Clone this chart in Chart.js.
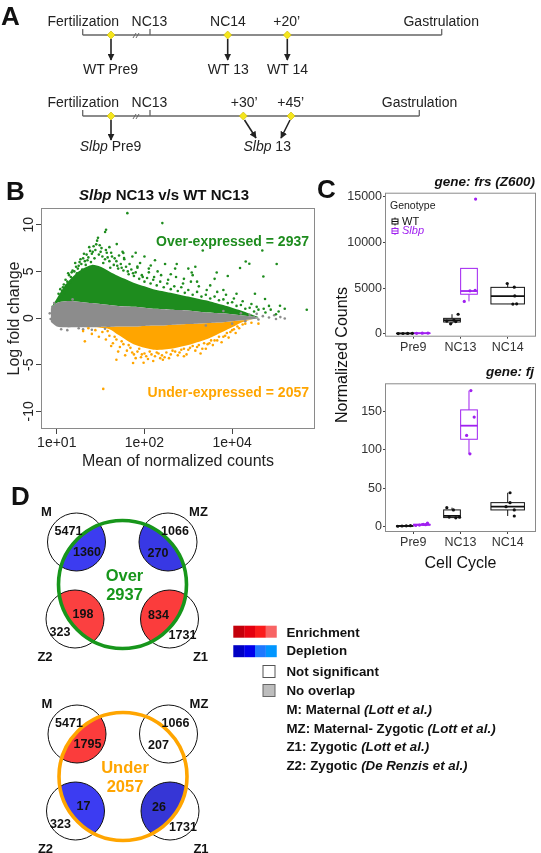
<!DOCTYPE html>
<html>
<head>
<meta charset="utf-8">
<script src="https://cdn.jsdelivr.net/npm/chart.js@4.4.0/dist/chart.umd.min.js"></script>
<style>
  html, body { margin: 0; padding: 0; background: #fff; }
  body { width: 541px; height: 853px; position: relative; overflow: hidden; font-family: "Liberation Sans", Arial, sans-serif; }
  canvas { position: absolute; }
  #ma { left: 0; top: 185px; }
  #frs { left: 330px; top: 172px; }
  #fj { left: 330px; top: 362px; }
  #art { position: absolute; left: 0; top: 0; z-index: 2; pointer-events: none; }
</style>
</head>
<body>
<canvas id="ma" width="330" height="290"></canvas>
<canvas id="frs" width="211" height="188"></canvas>
<canvas id="fj" width="211" height="215"></canvas>
<svg id="art" width="541" height="853" xmlns="http://www.w3.org/2000/svg" font-family="Liberation Sans, Arial, sans-serif">
  <defs>
    <marker id="arr" viewBox="0 0 10 10" refX="9" refY="5" markerUnits="userSpaceOnUse" markerWidth="7" markerHeight="7" orient="auto">
      <path d="M0,0 L10,5 L0,10 z" fill="#222"/>
    </marker>
  </defs>

  <!-- panel letters -->
  <g font-weight="bold" font-size="26" fill="#111">
    <text x="1" y="25">A</text>
    <text x="6" y="200">B</text>
    <text x="317" y="198">C</text>
    <text x="11" y="505">D</text>
  </g>

  <!-- A: sampling timelines -->
  <g stroke="#666" stroke-width="1.3" fill="none">
    <path d="M82.7,35 H441.7 M82.7,29 V35 M150,29 V35 M441.7,29 V35"/>
    <path d="M82.7,116 H419.3 M82.7,110 V116 M150,110 V116 M419.3,110 V116"/>
    <path stroke-width="1" d="M133,38 L136,33 M136,38 L139,33 M133,119 L136,114 M136,119 L139,114"/>
  </g>
  <g stroke="#222" stroke-width="1.6" marker-end="url(#arr)">
    <line x1="111" y1="39" x2="111" y2="60"/>
    <line x1="227.7" y1="39" x2="227.7" y2="60"/>
    <line x1="287.3" y1="39" x2="287.3" y2="60"/>
    <line x1="111" y1="120" x2="111" y2="140"/>
    <line x1="244.5" y1="120" x2="256" y2="138"/>
    <line x1="290" y1="120" x2="281" y2="138"/>
  </g>
  <g fill="#f5e61c" stroke="#c8b400" stroke-width="0.6">
    <polygon points="111,31 115,35 111,39 107,35"/>
    <polygon points="227.7,31 231.7,35 227.7,39 223.7,35"/>
    <polygon points="287.3,31 291.3,35 287.3,39 283.3,35"/>
    <polygon points="111,112 115,116 111,120 107,116"/>
    <polygon points="243.3,112 247.3,116 243.3,120 239.3,116"/>
    <polygon points="291,112 295,116 291,120 287,116"/>
  </g>
  <g font-size="14" fill="#222" text-anchor="middle">
    <text x="83.3" y="25.7">Fertilization</text>
    <text x="149.5" y="25.7">NC13</text>
    <text x="228" y="25.7">NC14</text>
    <text x="286.7" y="25.7">+20’</text>
    <text x="441.2" y="25.7">Gastrulation</text>
    <text x="110.5" y="74">WT Pre9</text>
    <text x="228.3" y="74">WT 13</text>
    <text x="287.5" y="74">WT 14</text>
    <text x="83.3" y="106.7">Fertilization</text>
    <text x="149.5" y="106.7">NC13</text>
    <text x="244.2" y="106.7">+30’</text>
    <text x="290.8" y="106.7">+45’</text>
    <text x="419.5" y="106.7">Gastrulation</text>
    <text x="110.5" y="150.7"><tspan font-style="italic">Slbp</tspan> Pre9</text>
    <text x="267.2" y="150.7"><tspan font-style="italic">Slbp</tspan> 13</text>
  </g>

  <!-- B: title and annotations -->
  <text x="164" y="200" font-size="15" font-weight="bold" text-anchor="middle" fill="#111"><tspan font-style="italic">Slbp</tspan> NC13 v/s WT NC13</text>
  <text id="overLbl" x="309" y="246" font-size="14" font-weight="bold" text-anchor="end" fill="#1e8c1e"></text>
  <text id="underLbl" x="309" y="396.5" font-size="14" font-weight="bold" text-anchor="end" fill="#ffa500"></text>

  <!-- C: titles -->
  <text x="535" y="186" font-size="13.5" font-weight="bold" font-style="italic" text-anchor="end" fill="#111">gene: frs (Z600)</text>
  <text x="534" y="376" font-size="13.5" font-weight="bold" font-style="italic" text-anchor="end" fill="#111">gene: fj</text>
  <text transform="translate(347,355) rotate(-90)" font-size="16" text-anchor="middle" fill="#111">Normalized Counts</text>

  <!-- D: legend -->
  <g id="dLegend"></g>
  <g id="venn"></g>
</svg>

<script>
'use strict';

// ---------- Panel B: MA plot (x in decade index, y = log fold change) ----------
const maTickVals = [1, 2, 3];
const maTickLabels = ['1e+01', '1e+02', '1e+04'];
const foldTicks = [-10, -5, 0, 5, 10];
const overCount = 2937;
const underCount = 2057;

// dense clouds, read as envelopes along the x axis
const bandX = [0.93, 1.0, 1.1, 1.2, 1.3, 1.4, 1.5, 1.6, 1.7, 1.8, 1.9, 2.0, 2.1, 2.2, 2.3, 2.4, 2.5, 2.6, 2.7, 2.8, 2.9, 3.0, 3.1, 3.2, 3.3];
const greyTop = [1.0, 1.6, 1.8, 1.8, 1.7, 1.6, 1.5, 1.4, 1.3, 1.25, 1.2, 1.1, 1.0, 0.95, 0.9, 0.85, 0.8, 0.7, 0.6, 0.55, 0.5, 0.4, 0.3, 0.2, 0.05];
const greyBot = [-0.4, -0.9, -1.0, -1.0, -1.0, -1.0, -0.95, -0.95, -0.9, -0.9, -0.9, -0.85, -0.8, -0.8, -0.75, -0.7, -0.65, -0.6, -0.55, -0.5, -0.45, -0.35, -0.25, -0.15, -0.05];
const greenTop = [1.0, 2.1, 3.6, 4.6, 5.3, 5.7, 5.5, 5.0, 4.5, 4.1, 3.7, 3.4, 3.1, 2.9, 2.7, 2.5, 2.3, 2.1, 1.9, 1.65, 1.4, 1.1, 0.8, 0.45, 0.1];
const orangeBot = [-0.4, -0.9, -1.0, -1.0, -1.0, -1.0, -1.05, -1.2, -1.8, -2.4, -2.9, -3.2, -3.4, -3.4, -3.3, -3.1, -2.9, -2.6, -2.3, -1.9, -1.45, -1.0, -0.5, -0.2, -0.05];

// individual genes outside the dense clouds
const overPts = [
  [1.805, 11.25], [2.204, 10.18], [1.551, 9.22], [1.562, 9.46], [1.684, 7.93], [1.759, 6.97], [1.767, 6.43],
  [1.862, 6.6], [1.919, 5.53], [2.072, 5.64], [2.235, 5.79], [2.368, 5.79], [2.539, 4.89], [2.665, 7.25],
  [2.824, 4.89], [3.09, 5.36], [3.155, 6.07], [3.196, 5.82], [3.508, 5.79], [3.356, 4.46], [3.375, 2.04],
  [3.851, 0.89], [3.344, 7.25], [3.546, 1.32],
  [1.02, 2.6], [1.04, 3.1], [1.06, 2.9], [1.08, 3.6], [1.1, 4.1], [1.12, 3.9], [1.14, 4.6], [1.16, 4.4],
  [1.18, 5.1], [1.2, 5.0], [1.22, 5.5], [1.24, 5.3], [1.26, 6.0], [1.28, 5.8], [1.3, 6.4], [1.32, 6.1],
  [1.34, 6.8], [1.36, 6.5], [1.38, 7.2], [1.4, 6.9], [1.42, 7.7], [1.44, 7.3], [1.46, 8.3], [1.47, 8.6],
  [1.49, 7.8], [1.5, 7.1], [1.52, 6.6], [1.55, 6.3], [1.57, 7.0], [1.6, 6.1], [1.63, 6.6], [1.65, 5.7],
  [1.68, 6.1], [1.7, 5.3], [1.73, 5.8], [1.76, 5.1], [1.79, 5.5], [1.82, 4.7], [1.85, 5.2], [1.88, 4.5],
  [1.9, 4.9], [1.94, 4.2], [1.97, 4.6], [2.0, 3.9], [2.03, 4.3], [2.07, 3.7], [2.1, 4.1], [2.14, 3.5],
  [2.18, 3.9], [2.22, 3.3], [2.26, 3.7], [2.3, 3.1], [2.34, 3.4], [2.38, 2.9], [2.42, 3.3], [2.46, 2.7],
  [2.5, 3.0], [2.55, 2.5], [2.6, 2.8], [2.65, 2.3], [2.7, 2.5], [2.75, 2.1], [2.8, 2.3], [2.85, 1.9],
  [2.9, 2.0], [2.95, 1.6], [3.0, 1.7], [3.05, 1.3], [3.1, 1.4], [3.15, 1.0], [3.2, 1.1], [3.25, 0.7],
  [3.3, 0.9], [3.38, 0.6], [3.44, 0.9], [3.5, 0.4],
  [1.6, 7.6], [1.75, 7.1], [1.95, 5.9], [2.15, 5.0], [2.3, 4.7], [2.45, 4.2], [2.6, 3.9], [2.75, 3.5],
  [2.9, 3.0], [3.05, 2.6], [2.0, 6.6], [2.5, 5.3], [1.9, 7.0], [2.8, 4.2],
  [1.05, 2.3], [1.07, 3.3], [1.09, 2.7], [1.11, 3.5], [1.13, 4.8], [1.15, 3.8], [1.17, 4.9], [1.19, 4.2],
  [1.21, 5.9], [1.23, 4.8], [1.25, 5.6], [1.27, 6.3], [1.29, 5.2], [1.31, 6.9], [1.33, 5.7], [1.35, 6.2],
  [1.37, 7.6], [1.39, 6.0], [1.41, 7.1], [1.43, 6.4], [1.45, 7.9], [1.48, 6.8], [1.51, 7.5], [1.53, 5.9],
  [1.56, 7.3], [1.58, 6.5], [1.61, 5.4], [1.62, 7.0], [1.66, 6.4], [1.69, 5.6], [1.71, 6.7], [1.74, 5.4],
  [1.77, 6.3], [1.81, 5.0], [1.83, 5.8], [1.87, 4.8], [1.92, 5.4], [1.98, 4.4], [2.05, 4.9], [2.11, 4.4],
  [2.19, 4.6], [2.27, 4.1], [2.36, 4.4], [2.44, 3.7], [2.53, 3.9], [2.62, 3.4], [2.71, 3.0], [2.83, 2.8],
  [2.93, 2.5], [3.02, 2.1], [3.12, 1.8], [3.22, 1.5], [3.28, 1.2], [3.36, 1.0], [3.42, 1.3], [3.53, 0.7],
  [3.6, 1.0], [3.26, 2.6], [2.55, 4.6], [2.35, 5.3], [2.05, 5.3], [2.12, 6.2], [2.58, 5.5], [2.95, 4.5]
];
const underPts = [
  [1.53, -7.6], [1.3, -1.4], [1.32, -2.5], [1.36, -1.1], [1.4, -1.7], [1.44, -1.3], [1.48, -2.0], [1.52, -1.5],
  [1.56, -2.3], [1.6, -1.9], [1.64, -2.7], [1.68, -2.3], [1.68, -4.47], [1.72, -3.1], [1.76, -2.8], [1.8, -3.5],
  [1.84, -3.2], [1.87, -4.82], [1.88, -3.9], [1.92, -3.6], [1.96, -4.2], [1.99, -4.8], [2.0, -3.8], [2.04, -4.4],
  [2.08, -3.9], [2.12, -4.1], [2.16, -3.8], [2.21, -4.47], [2.2, -4.0], [2.25, -3.7], [2.3, -3.9], [2.35, -3.6],
  [2.4, -3.7], [2.45, -3.3], [2.5, -3.4], [2.55, -3.0], [2.6, -3.1], [2.64, -3.8], [2.68, -2.7], [2.72, -2.8],
  [2.76, -2.4], [2.8, -2.4], [2.85, -2.0], [2.9, -2.0], [2.94, -1.6], [2.98, -1.5], [3.02, -1.2], [3.06, -0.9],
  [3.12, -0.7], [3.3, -0.6], [2.45, -4.1], [2.7, -3.3],
  [1.58, -1.4], [1.62, -3.0], [1.66, -2.0], [1.7, -3.6], [1.74, -2.5], [1.78, -4.0], [1.82, -2.9], [1.86, -3.7],
  [1.9, -4.3], [1.94, -3.3], [1.97, -3.9], [2.02, -4.1], [2.06, -3.6], [2.1, -4.6], [2.14, -3.7], [2.18, -4.3],
  [2.23, -4.2], [2.28, -4.3], [2.32, -3.5], [2.38, -4.0], [2.42, -3.4], [2.48, -3.9], [2.52, -3.2], [2.58, -3.5],
  [2.62, -2.9], [2.66, -3.3], [2.74, -2.7], [2.78, -2.9], [2.83, -2.4], [2.88, -2.6], [2.92, -1.9], [2.96, -2.1],
  [3.0, -1.3], [3.04, -1.6], [3.08, -1.1], [3.15, -0.6], [3.22, -0.5]
];
const greyPts = [
  [0.92, 0.5], [0.93, -0.1], [0.95, 1.2], [1.25, -1.1], [1.3, -1.2], [3.2, 0.35], [3.25, 0.1], [3.3, -0.15],
  [3.35, 0.2], [3.42, 0.05], [3.5, -0.1], [3.55, 0.1], [3.6, -0.05], [3.48, 0.3],
  [0.97, 1.6], [1.05, -1.2], [1.12, -1.3], [1.18, 2.0], [1.4, -1.25], [1.55, -1.15], [2.9, 0.75], [3.0, -0.6],
  [3.1, 0.5], [3.15, -0.35], [2.7, -0.8], [3.28, 0.45]
];

// ---------- Panel C: box plots ----------
const cycles = ['Pre9', 'NC13', 'NC14'];
const genotypes = ['WT', 'Slbp'];
const frsTicks = [0, 5000, 10000, 15000];
const frsWT = [[40, 50, 60, 70], [2150, 1100, 1400, 1500, 1350], [5500, 5100, 4150, 3260, 3280]];
const frsSlbp = [[70, 80, 90], [3550, 4700, 4750, 14700], []];
const frsWTBox = [[40, 50, 55, 65, 70], [1100, 1300, 1500, 1700, 2150], [3260, 3270, 4130, 5080, 5500]];  // lo, q1, med, q3, hi
const frsSlbpBox = [[70, 75, 80, 85, 90], [3550, 4330, 4680, 7150, 7150], null];
const frsWTJit = [[-0.14, -0.04, 0.06, 0.16], [0.13, -0.03, -0.11, 0.04, 0.08], [-0.01, 0.14, 0.15, 0.11, 0.19]];
const frsSlbpJit = [[-0.11, 0.01, 0.13], [-0.1, 0.02, 0.13, 0.14], []];

const fjTicks = [0, 50, 100, 150];
const fjWT = [[0.5, 0.8, 1.0, 1.2], [24.8, 21.8, 12.5, 11.5, 12.3], [44.2, 31.3, 26, 21.8, 13.9]];
const fjSlbp = [[1.5, 2, 3, 4.5, 2.5], [177.5, 143, 119, 95], []];
const fjWTBox = [[0.5, 0.7, 0.9, 1.05, 1.2], [11.5, 11.8, 14, 21.8, 24.8], [13.9, 21.8, 26, 31.3, 44.2]];
const fjSlbpBox = [[1.5, 2, 2.5, 3, 4.5], [95, 114, 131.7, 152.3, 177.5], null];
const fjWTJit = [[-0.15, -0.06, 0.03, 0.12], [-0.11, 0.03, -0.06, 0.08, 0.16], [0.05, 0.05, -0.035, 0.14, 0.14]];
const fjSlbpJit = [[-0.13, -0.05, 0.03, 0.12, 0.08], [0.04, 0.11, -0.05, 0.02], []];

// ---------- Panel D: overlaps with published gene classes ----------
const vennSets = ['M', 'MZ', 'Z2', 'Z1'];
const setTotals = [5471, 1066, 323, 1731];
const overOverlap = [1360, 270, 198, 834];
const overFill = ['#3c3cf0', '#3838e4', '#fb4040', '#fb3c3c'];
const underOverlap = [1795, 207, 17, 26];
const underFill = ['#fb3c3c', null, '#3c3cf2', '#3636d6'];
const enrichShades = ['#c4000b', '#e4000f', '#fb1b1b', '#f86464'];
const depleteShades = ['#0000c4', '#0000ec', '#1e78ff', '#0096ff'];

const GREEN = '#1e8c1e';
const ORANGE = '#ffa500';
const GREY = '#8c8c8c';
const PURPLE = '#a020f0';

Chart.defaults.font.family = '"Liberation Sans", Arial, sans-serif';
Chart.defaults.color = '#222';
Chart.defaults.animation = false;
Chart.defaults.plugins.legend.display = false;
Chart.defaults.plugins.tooltip.enabled = false;

// box around the plotting region
const frame = {
  id: 'frame',
  afterDatasetsDraw(chart, args, opts) {
    const {ctx, chartArea: a} = chart;
    ctx.save();
    ctx.strokeStyle = opts.color;
    ctx.lineWidth = 1;
    ctx.strokeRect(a.left + 0.5, a.top + 0.5, a.right - a.left - 1, a.bottom - a.top - 1);
    ctx.restore();
  }
};

// R-style y labels, turned to read upward
const uprightY = {
  id: 'uprightY',
  afterDraw(chart) {
    const {ctx, chartArea} = chart;
    const y = chart.scales.y;
    ctx.save();
    ctx.font = '14px "Liberation Sans", Arial, sans-serif';
    ctx.fillStyle = '#222';
    ctx.textAlign = 'center';
    ctx.textBaseline = 'middle';
    y.ticks.forEach(t => {
      ctx.save();
      ctx.translate(chartArea.left - 12, y.getPixelForValue(t.value));
      ctx.rotate(-Math.PI / 2);
      ctx.fillText(String(t.value), 0, 0);
      ctx.restore();
    });
    ctx.restore();
  }
};

function pairs(list) {
  return list.map(p => ({x: p[0], y: p[1]}));
}
function band(vals) {
  return bandX.map((x, i) => ({x: x, y: vals[i]}));
}
function edge(vals, fillTo, color) {
  return {
    type: 'line', data: band(vals), borderColor: 'transparent', borderWidth: 0,
    pointRadius: 0, tension: 0.3, fill: fillTo, backgroundColor: color
  };
}
function dots(list, color) {
  return {type: 'scatter', data: pairs(list), backgroundColor: color, borderWidth: 0, pointRadius: 1.3};
}

new Chart(document.getElementById('ma'), {
  type: 'scatter',
  data: {
    datasets: [
      dots(overPts, GREEN),
      dots(underPts, ORANGE),
      dots(greyPts, GREY),
      edge(greyBot, false, GREY),
      edge(greyTop, 3, GREY),
      edge(greenTop, 4, GREEN),
      edge(orangeBot, 3, ORANGE)
    ]
  },
  options: {
    responsive: false,
    layout: {padding: {top: 23, right: 15, left: 0, bottom: 0}},
    scales: {
      x: {
        type: 'linear', min: 0.82, max: 3.945,
        afterBuildTicks: s => { s.ticks = maTickVals.map(v => ({value: v})); },
        afterFit: s => { s.height = 46; },
        border: {display: false},
        grid: {drawOnChartArea: false, tickLength: 5, color: '#444'},
        ticks: {
          autoSkip: false, maxRotation: 0, padding: 1, font: {size: 14}, color: '#222',
          callback: v => maTickLabels[maTickVals.indexOf(v)]
        },
        title: {display: true, text: 'Mean of normalized counts', font: {size: 16}, color: '#222', padding: {top: 0, bottom: 4}}
      },
      y: {
        min: -11.9, max: 11.8,
        afterBuildTicks: s => { s.ticks = foldTicks.map(v => ({value: v})); },
        afterFit: s => { s.width = 41; },
        border: {display: false},
        grid: {drawOnChartArea: false, tickLength: 5, color: '#444'},
        ticks: {display: false},
        title: {display: true, text: 'Log fold change', font: {size: 16}, color: '#222', padding: {top: 5, bottom: 0}}
      }
    },
    plugins: {frame: {color: '#8a8a8a'}}
  },
  plugins: [frame, uprightY]
});

document.getElementById('overLbl').textContent = 'Over-expressed = ' + overCount;
document.getElementById('underLbl').textContent = 'Under-expressed = ' + underCount;

// box and whisker drawn through the chart scales
const boxes = {
  id: 'boxes',
  beforeDatasetsDraw(chart, args, opts) {
    const {ctx} = chart;
    const x = chart.scales.x, y = chart.scales.y;
    opts.groups.forEach(g => {
      g.stats.forEach((s, i) => {
        if (!s) return;
        const c = i + 1 + g.dodge[i];
        const hw = g.half[i];
        const xl = x.getPixelForValue(c - hw), xr = x.getPixelForValue(c + hw), xc = x.getPixelForValue(c);
        const [lo, q1, med, q3, hi] = s.map(v => y.getPixelForValue(v));
        ctx.save();
        ctx.strokeStyle = g.color;
        ctx.lineWidth = 1;
        ctx.beginPath();
        ctx.moveTo(xc, lo); ctx.lineTo(xc, q1);
        ctx.moveTo(xc, q3); ctx.lineTo(xc, hi);
        ctx.stroke();
        ctx.fillStyle = '#fff';
        ctx.fillRect(xl, q3, xr - xl, q1 - q3);
        ctx.strokeRect(xl, q3, xr - xl, q1 - q3);
        ctx.lineWidth = 1.8;
        ctx.beginPath();
        ctx.moveTo(xl, med); ctx.lineTo(xr, med);
        ctx.stroke();
        ctx.restore();
      });
    });
  }
};

// ggplot style key inside the first panel
const genoKey = {
  id: 'genoKey',
  afterDraw(chart, args, opts) {
    if (!opts.show) return;
    const {ctx} = chart;
    ctx.save();
    ctx.font = '10.5px "Liberation Sans", Arial, sans-serif';
    ctx.fillStyle = '#222';
    ctx.textBaseline = 'middle';
    ctx.fillText('Genotype', 60, 34);
    const colors = ['#111', PURPLE];
    genotypes.forEach((g, i) => {
      const cy = 49.5 + i * 9.5;
      ctx.strokeStyle = colors[i];
      ctx.lineWidth = 1;
      ctx.beginPath();
      ctx.moveTo(65, cy - 4); ctx.lineTo(65, cy + 4);
      ctx.stroke();
      ctx.fillStyle = '#fff';
      ctx.fillRect(62, cy - 2.5, 6, 5);
      ctx.strokeRect(62, cy - 2.5, 6, 5);
      ctx.beginPath();
      ctx.moveTo(62, cy); ctx.lineTo(68, cy);
      ctx.stroke();
      ctx.fillStyle = colors[i];
      ctx.font = (i === 1 ? 'italic ' : '') + '11px "Liberation Sans", Arial, sans-serif';
      ctx.fillText(g, 72, cy);
    });
    ctx.restore();
  }
};

const wtDodge = [-0.18, -0.18, 0];
const slbpDodge = [0.18, 0.18, 0.18];
const wtHalf = [0.177, 0.177, 0.355];
const slbpHalf = [0.177, 0.177, 0.177];

function jittered(vals, jit, dodge) {
  const out = [];
  vals.forEach((list, i) => {
    list.forEach((v, j) => out.push({x: i + 1 + dodge[i] + jit[i][j], y: v}));
  });
  return out;
}

function boxChart(id, cfg) {
  new Chart(document.getElementById(id), {
    type: 'scatter',
    data: {
      datasets: [
        {data: jittered(cfg.wt, cfg.wtJit, wtDodge), backgroundColor: '#111', borderWidth: 0, pointRadius: 1.6},
        {data: jittered(cfg.slbp, cfg.slbpJit, slbpDodge), backgroundColor: PURPLE, borderWidth: 0, pointRadius: 1.6}
      ]
    },
    options: {
      responsive: false,
      layout: {padding: {top: cfg.top, right: 5, left: 0, bottom: 0}},
      scales: {
        x: {
          type: 'linear', min: 0.4, max: 3.6,
          afterBuildTicks: s => { s.ticks = cycles.map((c, i) => ({value: i + 1})); },
          afterFit: s => { s.height = cfg.xh; },
          border: {display: false},
          grid: {drawOnChartArea: false, tickLength: 2, color: '#444'},
          ticks: {autoSkip: false, maxRotation: 0, padding: 1, font: {size: 12.5}, color: '#333', callback: v => cycles[v - 1]},
          title: {display: !!cfg.xTitle, text: cfg.xTitle || '', font: {size: 16}, color: '#111', padding: {top: 0, bottom: 4}}
        },
        y: {
          min: cfg.min, max: cfg.max,
          afterBuildTicks: s => { s.ticks = cfg.ticks.map(v => ({value: v})); },
          afterFit: s => { s.width = 55; },
          border: {display: false},
          grid: {drawOnChartArea: false, tickLength: 2, color: '#444'},
          ticks: {padding: 1, font: {size: 12.5}, color: '#333', callback: v => String(v)}
        }
      },
      plugins: {
        frame: {color: '#8a8a8a'},
        boxes: {groups: [
          {stats: cfg.wtBox, color: '#111', dodge: wtDodge, half: wtHalf},
          {stats: cfg.slbpBox, color: PURPLE, dodge: slbpDodge, half: slbpHalf}
        ]},
        genoKey: {show: cfg.key}
      }
    },
    plugins: [frame, boxes, genoKey]
  });
}

boxChart('frs', {
  wt: frsWT, slbp: frsSlbp, wtBox: frsWTBox, slbpBox: frsSlbpBox, wtJit: frsWTJit, slbpJit: frsSlbpJit,
  ticks: frsTicks, min: -300, max: 15400, top: 20.7, xh: 23.3, key: true
});
boxChart('fj', {
  wt: fjWT, slbp: fjSlbp, wtBox: fjWTBox, slbpBox: fjSlbpBox, wtJit: fjWTJit, slbpJit: fjSlbpJit,
  ticks: fjTicks, min: -7, max: 187, top: 21.3, xh: 45, key: false, xTitle: 'Cell Cycle'
});

// ---------- Panel D drawing (SVG) ----------
const NS = 'http://www.w3.org/2000/svg';
function add(parent, tag, attrs, text) {
  const n = document.createElementNS(NS, tag);
  Object.keys(attrs).forEach(k => n.setAttribute(k, attrs[k]));
  if (text !== undefined) n.textContent = text;
  parent.appendChild(n);
  return n;
}

const venn = document.getElementById('venn');
const defs = document.querySelector('#art defs');
const setOffsets = [[-46, -42.5], [45.5, -42.5], [-47.5, 34.5], [47, 34.5]];
const totalOffsets = [[-8, -12], [7, -12], [-15, 12.5], [13, 15.5]];
const overlapOffsets = [[10.5, 9], [-10, 10.5], [8, -5.5], [-11, -5]];
const labelOffsets = [[-30, -31], [30.5, -31], [-30, 37], [31, 37]];
const groups = [
  {name: 'Over', total: overCount, ring: '#17961b', counts: overOverlap, fills: overFill, cx: 122.5, cy: 584.5},
  {name: 'Under', total: underCount, ring: ORANGE, counts: underOverlap, fills: underFill, cx: 123, cy: 776.5}
];
const R_BIG = 64, R_SMALL = 29;

groups.forEach((g, gi) => {
  const clip = add(defs, 'clipPath', {id: 'ring' + gi});
  add(clip, 'circle', {cx: g.cx, cy: g.cy, r: R_BIG});
  vennSets.forEach((s, i) => {
    const sx = g.cx + setOffsets[i][0], sy = g.cy + setOffsets[i][1];
    if (g.fills[i]) {
      add(venn, 'circle', {cx: sx, cy: sy, r: R_SMALL, fill: g.fills[i], 'clip-path': 'url(#ring' + gi + ')'});
    }
    add(venn, 'circle', {cx: sx, cy: sy, r: R_SMALL, fill: 'none', stroke: '#111', 'stroke-width': 1});
  });
  add(venn, 'circle', {cx: g.cx, cy: g.cy, r: R_BIG, fill: 'none', stroke: g.ring, 'stroke-width': 3.6});
  vennSets.forEach((s, i) => {
    const sx = g.cx + setOffsets[i][0], sy = g.cy + setOffsets[i][1];
    const common = {'font-weight': 'bold', 'text-anchor': 'middle', fill: '#111'};
    add(venn, 'text', Object.assign({x: sx + totalOffsets[i][0], y: sy + totalOffsets[i][1] + 4.5, 'font-size': 12.5}, common), String(setTotals[i]));
    add(venn, 'text', Object.assign({x: sx + overlapOffsets[i][0], y: sy + overlapOffsets[i][1] + 4.5, 'font-size': 12.5}, common), String(g.counts[i]));
    add(venn, 'text', Object.assign({x: sx + labelOffsets[i][0], y: sy + labelOffsets[i][1] + 4.7, 'font-size': 13}, common), s);
  });
  add(venn, 'text', {x: g.cx + 2, y: g.cy - 3.5, 'font-size': 16.5, 'font-weight': 'bold', 'text-anchor': 'middle', fill: g.ring}, g.name);
  add(venn, 'text', {x: g.cx + 2, y: g.cy + 15.5, 'font-size': 16.5, 'font-weight': 'bold', 'text-anchor': 'middle', fill: g.ring}, String(g.total));
});

// legend of panel D
const dLeg = document.getElementById('dLegend');
enrichShades.forEach((c, i) => add(dLeg, 'rect', {x: 233.3 + i * 10.85, y: 625.7, width: 10.9, height: 12, fill: c}));
depleteShades.forEach((c, i) => add(dLeg, 'rect', {x: 233.3 + i * 10.85, y: 645.2, width: 10.9, height: 12, fill: c}));
add(dLeg, 'rect', {x: 263, y: 665.5, width: 12, height: 12, fill: '#fff', stroke: '#555', 'stroke-width': 1});
add(dLeg, 'rect', {x: 263, y: 684.5, width: 12, height: 12, fill: '#bdbdbd', stroke: '#666', 'stroke-width': 1});
const legendRows = [
  ['Enrichment', '', 636.5],
  ['Depletion', '', 655],
  ['Not significant', '', 676],
  ['No overlap', '', 695],
  ['M: Maternal ', '(Lott et al.)', 714],
  ['MZ: Maternal- Zygotic ', '(Lott et al.)', 732.7],
  ['Z1: Zygotic ', '(Lott et al.)', 751],
  ['Z2: Zygotic ', '(De Renzis et al.)', 769.7]
];
legendRows.forEach(r => {
  const t = add(dLeg, 'text', {x: 286.5, y: r[2], 'font-size': 13.3, 'font-weight': 'bold', fill: '#111'}, r[0]);
  if (r[1]) add(t, 'tspan', {'font-style': 'italic'}, r[1]);
});
</script>
</body>
</html>
